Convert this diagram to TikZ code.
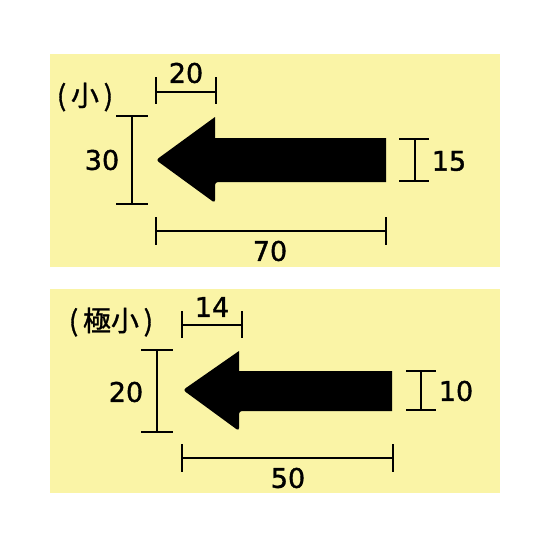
\documentclass[tikz,border=0pt]{standalone}
\usepackage{fontspec}
\setmainfont{DejaVu Sans}
\newfontfamily\digitfont[FakeBold=1.3]{DejaVu Sans}
\newfontfamily\jpfont[FakeBold=1.2]{Noto Sans CJK JP}
\definecolor{panel}{HTML}{FAF4A6}
\tikzset{
  panelbox/.style={fill=panel, draw=none},
  arrowshape/.style={fill=black, draw=none},
  dimline/.style={draw=black, line width=2.4pt},
  dimlabel/.style={font=\digitfont\fontsize{27}{27}\selectfont, inner sep=0pt},
  titlelabel/.style={font=\jpfont\fontsize{28}{28}\selectfont, inner sep=0pt}
}
\begin{document}
\begin{tikzpicture}[x=1pt,y=-1pt]
\useasboundingbox (0,0) rectangle (550,550);
\fill[white] (0,0) rectangle (550,550);
% panels
\path[panelbox] (50,54) rectangle (500,267);
\path[panelbox] (50,289) rectangle (500,493);

% ---------- top (small) ----------
\node[titlelabel] (t1) at (85,97) {(\,小\,)};
\path[arrowshape] (386,138) -- (215,138) -- (215,117) [rounded corners=3pt] -- (156,160) -- (215,203) -- (215,182) [sharp corners] -- (386,182) -- cycle;
% 20 head width
\coordinate (a1) at (156,92); \coordinate (a2) at (216,92);
\draw[dimline] (a1) -- (a2);
\draw[dimline] (156,77) -- (156,104);
\draw[dimline] (216,77) -- (216,104);
\node[dimlabel] (l20) at (186,73) {20};
% 30 height
\coordinate (b1) at (132,116); \coordinate (b2) at (132,204);
\draw[dimline] (b1) -- (b2);
\draw[dimline] (116,116) -- (148,116);
\draw[dimline] (116,204) -- (148,204);
\node[dimlabel] (l30) at (102,160) {30};
% 70 length
\coordinate (c1) at (156,231); \coordinate (c2) at (386,231);
\draw[dimline] (c1) -- (c2);
\draw[dimline] (156,217) -- (156,245);
\draw[dimline] (386,217) -- (386,245);
\node[dimlabel] (l70) at (270,251) {70};
% 15 shaft
\coordinate (d1) at (415,139); \coordinate (d2) at (415,181);
\draw[dimline] (d1) -- (d2);
\draw[dimline] (399,139) -- (429,139);
\draw[dimline] (399,181) -- (429,181);
\node[dimlabel] (l15) at (449,161) {15};

% ---------- bottom (very small) ----------
\node[titlelabel] (t2) at (111,322) {(\,極小\,)};
\path[arrowshape] (392,371) -- (239,371) -- (239,351) [rounded corners=3pt] -- (183,390) -- (239,431) -- (239,411) [sharp corners] -- (392,411) -- cycle;
% 14
\coordinate (e1) at (182,325); \coordinate (e2) at (242,325);
\draw[dimline] (e1) -- (e2);
\draw[dimline] (182,311) -- (182,338);
\draw[dimline] (242,311) -- (242,338);
\node[dimlabel] (l14) at (212,307) {14};
% 20
\coordinate (f1) at (157,350); \coordinate (f2) at (157,432);
\draw[dimline] (f1) -- (f2);
\draw[dimline] (141,350) -- (173,350);
\draw[dimline] (141,432) -- (173,432);
\node[dimlabel] (l20b) at (126,392) {20};
% 50
\coordinate (g1) at (182,458); \coordinate (g2) at (393,458);
\draw[dimline] (g1) -- (g2);
\draw[dimline] (182,444) -- (182,472);
\draw[dimline] (393,444) -- (393,472);
\node[dimlabel] (l50) at (288,478) {50};
% 10
\coordinate (h1) at (421,371); \coordinate (h2) at (421,410);
\draw[dimline] (h1) -- (h2);
\draw[dimline] (406,371) -- (436,371);
\draw[dimline] (406,410) -- (436,410);
\node[dimlabel] (l10) at (456,391) {10};
\end{tikzpicture}
\end{document}
